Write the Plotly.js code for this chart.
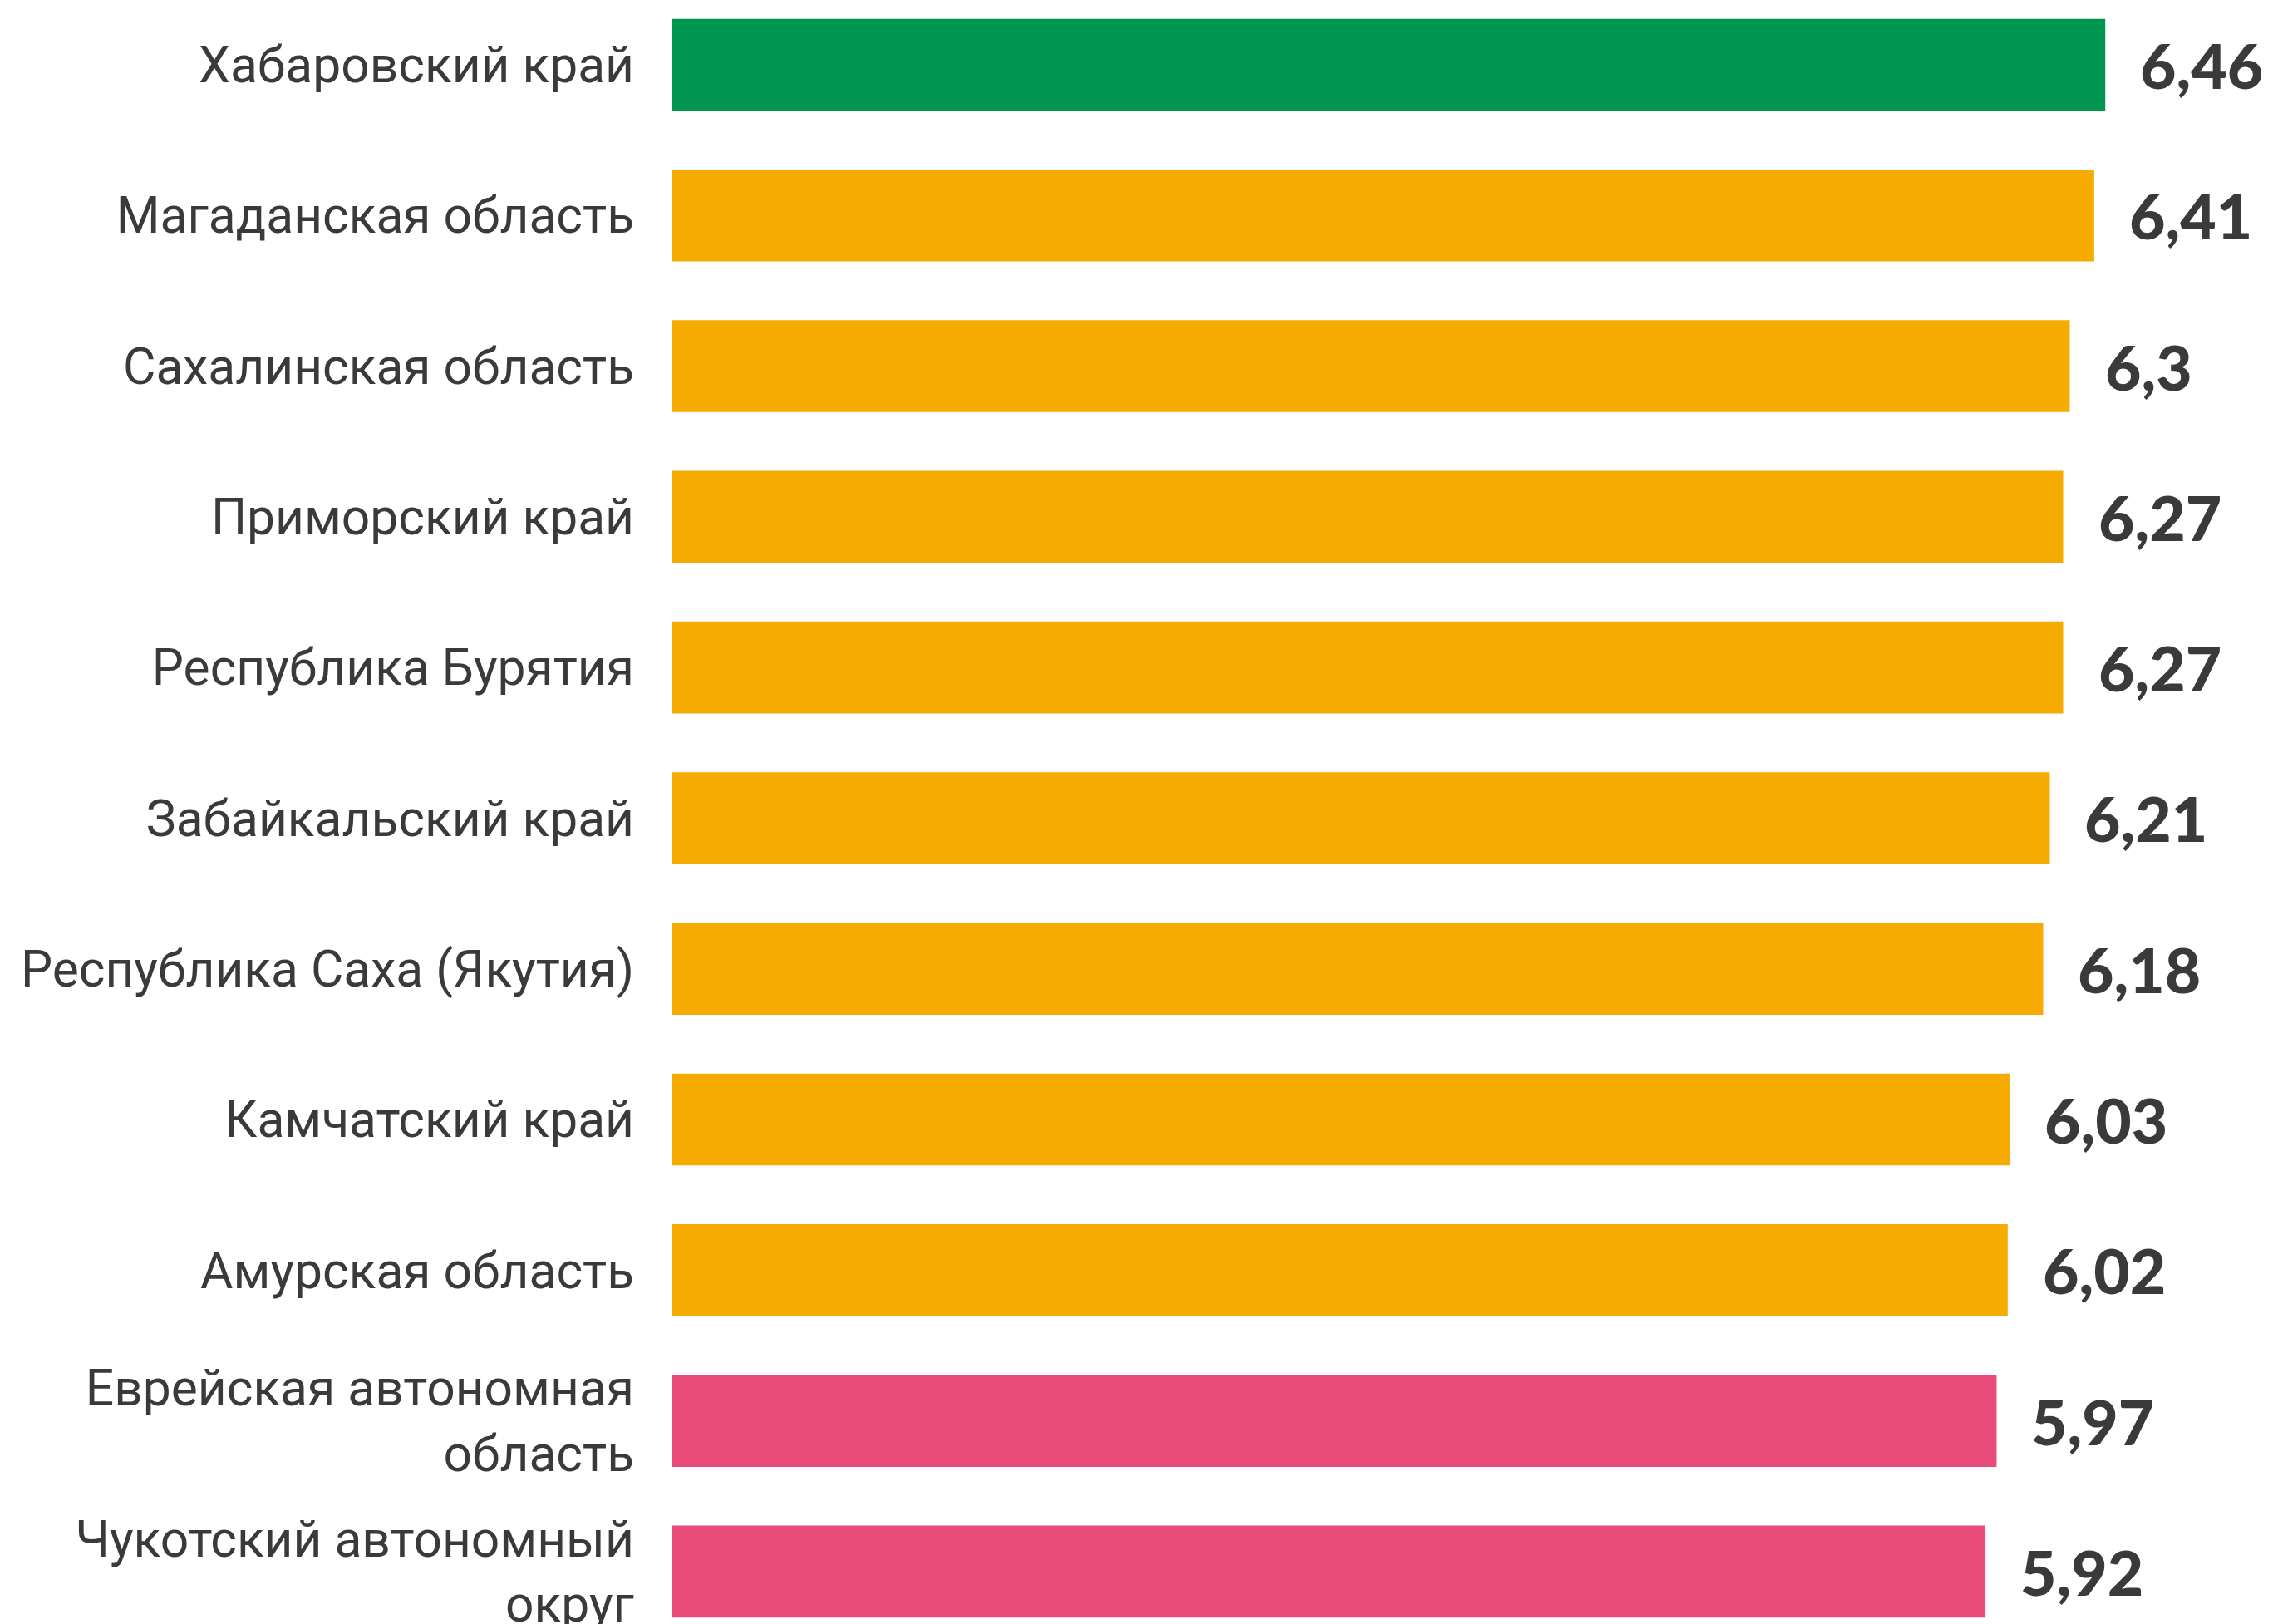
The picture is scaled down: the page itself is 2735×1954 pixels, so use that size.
<!DOCTYPE html>
<html>
<head>
<meta charset="utf-8">
<script src="https://cdn.plot.ly/plotly-3.0.1.min.js"></script>
<style>html,body{margin:0;padding:0;background:#fff;}#chart{width:2735px;height:1954px;}</style>
</head>
<body>
<div id="chart"></div>
<script>
const regions = [
  "Хабаровский край",
  "Магаданская область",
  "Сахалинская область",
  "Приморский край",
  "Республика Бурятия",
  "Забайкальский край",
  "Республика Саха (Якутия)",
  "Камчатский край",
  "Амурская область",
  "Еврейская автономная<br>область",
  "Чукотский автономный<br>округ"
];
const values = [6.46, 6.41, 6.3, 6.27, 6.27, 6.21, 6.18, 6.03, 6.02, 5.97, 5.92];
const valueLabels = ["6,46", "6,41", "6,3", "6,27", "6,27", "6,21", "6,18", "6,03", "6,02", "5,97", "5,92"];
const groups = ["top", "mid", "mid", "mid", "mid", "mid", "mid", "mid", "mid", "low", "low"];

const groupColors = {top: "rgb(0,150,80)", mid: "rgb(245,171,0)", low: "rgb(233,76,122)"};
const textColor = "#3a3a3a";

const trace = {
  type: "bar",
  orientation: "h",
  x: values,
  y: regions,
  width: 0.61,
  marker: {color: groups.map(g => groupColors[g])},
  hoverinfo: "none",
  showlegend: false
};

const annotations = values.map((v, i) => ({
  x: v,
  y: regions[i],
  xref: "x",
  yref: "y",
  text: valueLabels[i],
  showarrow: false,
  xanchor: "left",
  yanchor: "middle",
  xshift: 40,
  font: {family: "Lato", size: 75, weight: 900, color: textColor}
}));

const layout = {
  width: 2735,
  height: 1954,
  margin: {l: 809, r: 0, t: 0, b: 0, pad: 0},
  paper_bgcolor: "#fff",
  plot_bgcolor: "#fff",
  xaxis: {
    range: [0, 7.216],
    visible: false,
    showgrid: false,
    zeroline: false,
    fixedrange: true
  },
  yaxis: {
    type: "category",
    range: [10.348, -0.43],
    showgrid: false,
    zeroline: false,
    showline: false,
    ticks: "",
    ticklabelstandoff: 45,
    tickfont: {family: "Roboto", size: 60.5, color: textColor},
    automargin: false
  },
  annotations: annotations
};

Plotly.newPlot("chart", [trace], layout, {staticPlot: true, displayModeBar: false});
</script>
</body>
</html>
